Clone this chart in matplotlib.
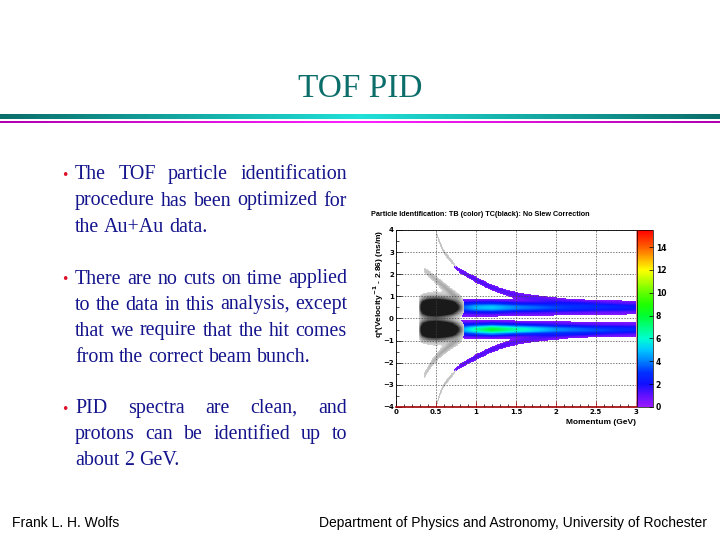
import numpy as np
import matplotlib
matplotlib.use("Agg")
import matplotlib.pyplot as plt
from matplotlib.colors import LinearSegmentedColormap
from matplotlib.ticker import MultipleLocator

# ---- data --------------------------------------------------------------
# pion bands (TB, colour): momentum knots, centre, width, peak counts
pi_p = [0.55, 0.60, 0.70, 0.80, 1.00, 1.20, 1.50, 2.00, 2.50, 3.00]
pi_pos_y = [0.50, 0.50, 0.50, 0.50, 0.50, 0.50, 0.50, 0.50, 0.50, 0.50]
pi_pos_n = [0.0, 0.8, 1.6, 2.8, 4.3, 4.6, 3.6, 2.8, 2.2, 1.8]
pi_neg_y = [-0.50, -0.50, -0.50, -0.50, -0.50, -0.50, -0.50, -0.50, -0.50, -0.50]
pi_neg_n = [0.5, 1.2, 2.2, 3.6, 6.0, 7.5, 6.0, 3.8, 2.8, 2.2]
pi_sig = [0.18, 0.18, 0.18, 0.18, 0.17, 0.17, 0.16, 0.16, 0.15, 0.15]
# faint purple fringe around the pion bands
halo_n = [0.0, 0.3, 0.4, 0.5, 0.5, 0.5, 0.5, 0.45, 0.4, 0.4]

# proton bands (TB, colour)
pr_p = [0.72, 0.80, 0.90, 1.00, 1.20, 1.40, 1.60, 2.00, 2.50, 3.00]
pr_pos_y = [2.40, 2.15, 1.95, 1.75, 1.40, 1.15, 1.00, 0.80, 0.65, 0.55]
pr_neg_y = [-2.40, -2.15, -1.95, -1.75, -1.40, -1.15, -1.00, -0.80, -0.65, -0.55]
pr_n = [0.6, 1.0, 1.2, 1.3, 1.3, 1.2, 1.0, 0.7, 0.5, 0.0]
pr_sig = [0.08, 0.08, 0.08, 0.09, 0.09, 0.09, 0.10, 0.10, 0.10, 0.10]

# TC hits (black): pion bands
tc_p = [0.28, 0.33, 0.40, 0.50, 0.60, 0.70, 0.78, 0.86]
tc_n = [0.0, 6.0, 11.0, 13.0, 12.0, 8.0, 3.5, 0.0]
tc_sig = [0.23, 0.23, 0.23, 0.23, 0.22, 0.21, 0.19, 0.17]
tc_halo_n = [0.0, 0.35, 0.5, 0.55, 0.55, 0.5, 0.35, 0.0]
# TC kaon and proton tracks (black)
tck_p = [0.35, 0.45, 0.55, 0.65, 0.75, 0.85]
tck_pos_y = [2.20, 1.90, 1.60, 1.30, 1.00, 0.80]
tck_neg_y = [-2.60, -2.00, -1.60, -1.30, -1.05, -0.85]
tck_n = [0.5, 0.8, 1.0, 1.0, 0.8, 0.0]
tcp_p = [0.50, 0.55, 0.60, 0.70, 0.80]
tcp_pos_y = [3.90, 3.40, 3.00, 2.55, 2.20]
tcp_neg_y = [-4.00, -3.40, -3.00, -2.55, -2.20]
tcp_n = [0.6, 0.7, 0.7, 0.6, 0.0]

x_ticks = [0, 0.5, 1, 1.5, 2, 2.5, 3]
y_ticks = [-4, -3, -2, -1, 0, 1, 2, 3, 4]
z_ticks = [0, 2, 4, 6, 8, 10, 12, 14]
z_max = 15.5

bullets = [
    ["The TOF particle identification",
     "procedure has been optimized for",
     "the Au+Au data."],
    ["There are no cuts on time applied",
     "to the data in this analysis, except",
     "that we require that the hit comes",
     "from the correct beam bunch."],
    ["PID spectra are clean, and",
     "protons can be identified up to",
     "about 2 GeV."],
]
bullet_y = [[173, 199.5, 225.5], [277.5, 303.5, 329.5, 355.5], [407, 433, 459]]


# ---- histogram on a fine grid ------------------------------------------
xe = np.linspace(0, 3, 241)
ye = np.linspace(-4, 4, 321)
xc = 0.5 * (xe[1:] + xe[:-1])
yc = 0.5 * (ye[1:] + ye[:-1])


def band(p, y, n, s):
    cy = np.interp(xc, p, y)
    cn = np.interp(xc, p, n, left=0, right=0)
    cs = np.interp(xc, p, s)
    return cn[None, :] * np.exp(-0.5 * ((yc[:, None] - cy[None, :]) / cs[None, :]) ** 2)


wide = [0.28] * len(pi_p)
H_tb = (band(pi_p, pi_pos_y, pi_pos_n, pi_sig) + band(pi_p, pi_neg_y, pi_neg_n, pi_sig)
        + band(pi_p, pi_pos_y, halo_n, wide) + band(pi_p, pi_neg_y, halo_n, wide)
        + band(pr_p, pr_pos_y, pr_n, pr_sig) + band(pr_p, pr_neg_y, pr_n, pr_sig))
H_tc = (band(tc_p, [0.5] * 8, tc_n, tc_sig) + band(tc_p, [-0.5] * 8, tc_n, tc_sig)
        + band(tc_p, [0.65] * 8, tc_halo_n, [0.4] * 8)
        + band(tc_p, [-0.65] * 8, tc_halo_n, [0.4] * 8)
        + band(tck_p, tck_pos_y, tck_n, [0.12] * 6) + band(tck_p, tck_neg_y, tck_n, [0.12] * 6)
        + band(tcp_p, tcp_pos_y, tcp_n, [0.08] * 5) + band(tcp_p, tcp_neg_y, tcp_n, [0.08] * 5))
H_tb = np.ma.masked_less(H_tb, 0.45)
H_tc = np.ma.masked_less(H_tc, 0.3)

root_pal = LinearSegmentedColormap.from_list("root", [
    (0.00, "#9a1aff"), (1 / z_max, "#6010ff"), (2 / z_max, "#1010ff"),
    (3 / z_max, "#0030ff"), (4 / z_max, "#0080ff"), (5 / z_max, "#00c8ff"),
    (6 / z_max, "#00ffd0"), (7 / z_max, "#00ff80"), (8 / z_max, "#00ff30"),
    (9 / z_max, "#20ff00"), (10 / z_max, "#60ff00"), (11 / z_max, "#b0ff00"),
    (12 / z_max, "#ffff00"), (13 / z_max, "#ffb000"), (14 / z_max, "#ff6000"),
    (1.0, "#ff0000")])
grey_pal = LinearSegmentedColormap.from_list("tc", ["#d4d4d4", "#707070", "#1a1a1a"])

# ---- figure ------------------------------------------------------------
W, H = 720, 540
fig = plt.figure(figsize=(7.2, 5.4), dpi=100)
fig.patch.set_facecolor("white")


def fx(px):
    return px / W


def fy(py):
    return 1 - py / H


# title + decorative bars
fig.text(fx(360), fy(97), "TOF PID", family="Liberation Serif", fontsize=24,
         color="#0b6e6a", ha="center", va="baseline")
grad = np.abs(np.linspace(-1, 1, 400))
bar1 = fig.add_axes([0, fy(119), 1, 5 / H])
bar1.imshow(grad[None, :], aspect="auto",
            cmap=LinearSegmentedColormap.from_list("t", ["#20e0d8", "#0a6e6a"]))
bar1.axis("off")
bar2 = fig.add_axes([0, fy(123.5), 1, 2.5 / H])
bar2.imshow(grad[None, :], aspect="auto",
            cmap=LinearSegmentedColormap.from_list("m", ["#ff20ff", "#b000b0"]))
bar2.axis("off")

# bullets, justified
renderer = fig.canvas.get_renderer()
x_left, x_right = 75, 347
tfont = dict(family="Liberation Serif", fontsize=14.4, color="#14148c", va="baseline")
for para, ys in zip(bullets, bullet_y):
    fig.text(fx(61), fy(ys[0] + 6), "\u2022", family="DejaVu Sans", fontsize=9,
             color="#e0102a", va="baseline")
    for i, (line, yl) in enumerate(zip(para, ys)):
        words = line.split()
        arts = [fig.text(0, fy(yl + 6), w, **tfont) for w in words]
        widths = [a.get_window_extent(renderer).width for a in arts]
        last = i == len(para) - 1
        gap = 5.0 if last else (x_right - x_left - sum(widths)) / (len(words) - 1)
        x = x_left
        for a, w in zip(arts, widths):
            a.set_x(fx(x))
            x += w + gap

# footer
fig.text(fx(12), fy(527), "Frank L. H. Wolfs", family="Liberation Sans", fontsize=10,
         va="baseline")
fig.text(fx(707), fy(527), "Department of Physics and Astronomy, University of Rochester",
         family="Liberation Sans", fontsize=10, va="baseline", ha="right")

# ---- the ROOT histogram -------------------------------------------------
ax = fig.add_axes([fx(396), fy(407), 240 / W, 177 / H])
mesh = ax.pcolormesh(xe, ye, H_tb, cmap=root_pal, vmin=0, vmax=z_max, rasterized=True)
ax.pcolormesh(xe, ye, H_tc, cmap=grey_pal, vmin=0.3, vmax=4, rasterized=True)
ax.set_xlim(0, 3)
ax.set_ylim(-4, 4)
ax.set_xticks(x_ticks)
ax.set_yticks(y_ticks)
ax.set_xticklabels(["0", "0.5", "1", "1.5", "2", "2.5", "3"])
ax.xaxis.set_minor_locator(MultipleLocator(0.1))
ax.yaxis.set_minor_locator(MultipleLocator(0.5))
ax.tick_params(which="both", direction="in", labelsize=5, pad=1.5, width=0.5)
ax.tick_params(which="major", length=4)
ax.tick_params(which="minor", length=2)
for lab in ax.get_xticklabels() + ax.get_yticklabels():
    lab.set_fontweight("bold")
ax.grid(True, color="#444444", linestyle=(0, (2, 2)), linewidth=0.5)
for s in ax.spines.values():
    s.set_linewidth(0.6)
ax.spines["bottom"].set_color("#a00000")
ax.spines["bottom"].set_linewidth(1.2)
ax.spines["right"].set_color("#e08080")
ax.tick_params(axis="x", colors="#a00000", labelcolor="black")

fig.text(fx(371), fy(215), "Particle Identification: TB (color) TC(black): No Slew Correction",
         fontsize=5.2, fontweight="bold", va="center", family="Liberation Sans")
fig.text(fx(636), fy(422), "Momentum (GeV)", fontsize=6, fontweight="bold",
         ha="right", va="center", family="Liberation Sans")
fig.text(fx(379), fy(230), r"q*(Velocity$^{\mathbf{-1}}$ - 2.86) (ns/m)", fontsize=6,
         fontweight="bold", rotation=90, ha="center", va="top", family="Liberation Sans")

cax = fig.add_axes([fx(637), fy(407), 16 / W, 177 / H])
cb = fig.colorbar(mesh, cax=cax, ticks=z_ticks)
cb.outline.set_linewidth(0.5)
cax.tick_params(direction="in", length=3, labelsize=5.5, pad=2, width=0.5)
for lab in cax.get_yticklabels():
    lab.set_fontweight("bold")

fig.savefig("out.png", dpi=100)
